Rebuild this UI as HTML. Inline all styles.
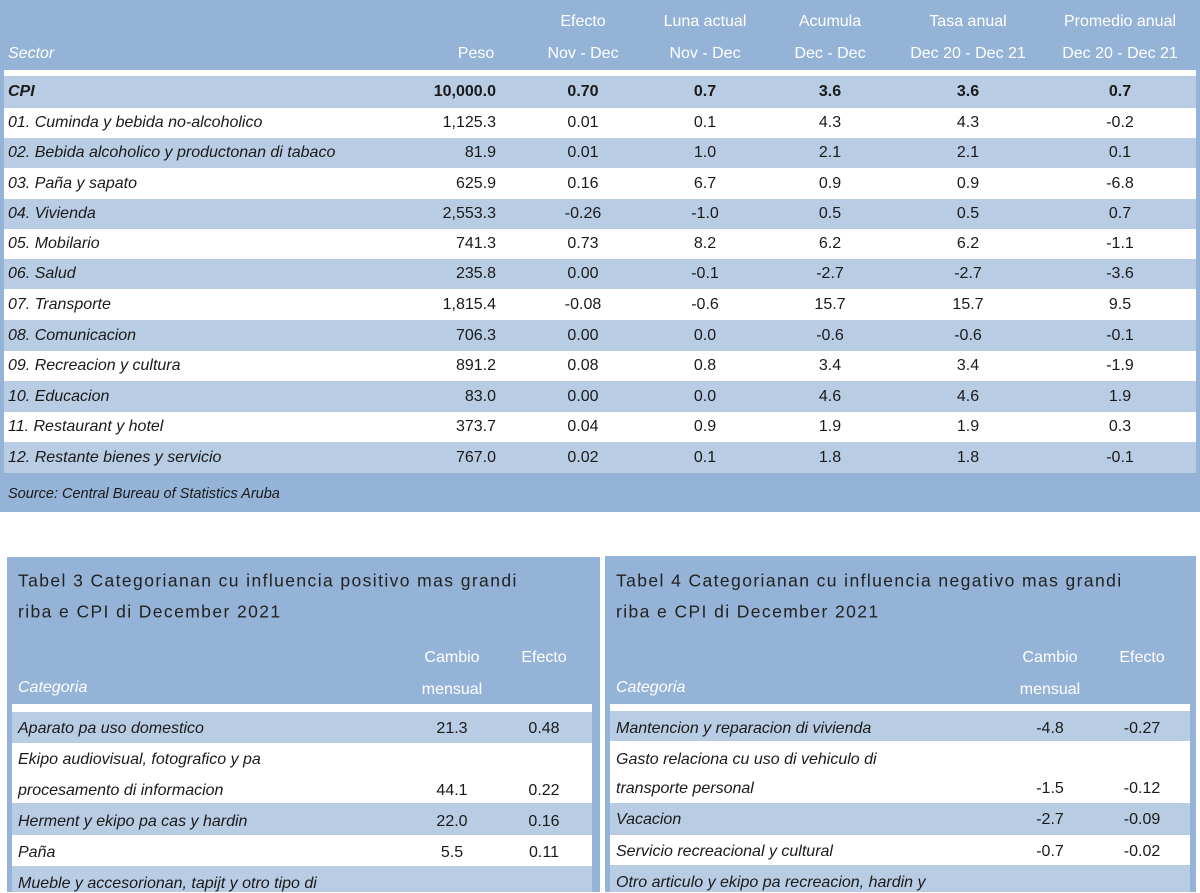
<!DOCTYPE html>
<html><head><meta charset="utf-8"><style>
body{margin:0;width:1200px;height:892px;overflow:hidden;background:#fff;font-family:"Liberation Sans",sans-serif;font-size:16px;color:#1a1a1a;position:relative}
.bg{position:absolute;background:#95b3d7}
.lt{position:absolute;background:#b8cce4}
.wh{position:absolute;background:#fff}
.h{color:#fff;position:absolute;white-space:nowrap;transform:translate(-50%,-50%)}
.c{position:absolute;white-space:nowrap;transform:translate(-50%,-50%)}
.r{position:absolute;white-space:nowrap;transform:translate(-100%,-50%)}
.l{position:absolute;white-space:nowrap;transform:translate(0,-50%);font-style:italic}
.t{position:absolute;white-space:nowrap;transform:translate(0,-50%);font-size:17.5px;letter-spacing:1.4px;color:#222}
</style></head><body>
<div class="bg" style="left:0;top:0;width:1200px;height:512px"></div>
<div class="wh" style="left:4px;top:70px;width:1192px;height:403px"></div>
<div class="bg" style="left:7px;top:557px;width:593px;height:335px"></div>
<div class="bg" style="left:605px;top:556px;width:591px;height:336px"></div>
<div class="wh" style="left:12px;top:704px;width:580px;height:188px"></div>
<div class="wh" style="left:610px;top:704px;width:580px;height:188px"></div>
<div class="lt" style="left:12px;top:712px;width:580px;height:31px"></div>
<div class="lt" style="left:12px;top:803px;width:580px;height:32px"></div>
<div class="lt" style="left:12px;top:866px;width:580px;height:26px"></div>
<div class="lt" style="left:610px;top:711px;width:580px;height:30px"></div>
<div class="lt" style="left:610px;top:803px;width:580px;height:32px"></div>
<div class="lt" style="left:610px;top:865px;width:580px;height:27px"></div>
<div id="top"></div>
<script>
var rows=[["CPI","10,000.0","0.70","0.7","3.6","3.6","0.7"],
["01. Cuminda y bebida no-alcoholico","1,125.3","0.01","0.1","4.3","4.3","-0.2"],
["02. Bebida alcoholico y productonan di tabaco","81.9","0.01","1.0","2.1","2.1","0.1"],
["03. Paña y sapato","625.9","0.16","6.7","0.9","0.9","-6.8"],
["04. Vivienda","2,553.3","-0.26","-1.0","0.5","0.5","0.7"],
["05. Mobilario","741.3","0.73","8.2","6.2","6.2","-1.1"],
["06. Salud","235.8","0.00","-0.1","-2.7","-2.7","-3.6"],
["07. Transporte","1,815.4","-0.08","-0.6","15.7","15.7","9.5"],
["08. Comunicacion","706.3","0.00","0.0","-0.6","-0.6","-0.1"],
["09. Recreacion y cultura","891.2","0.08","0.8","3.4","3.4","-1.9"],
["10. Educacion","83.0","0.00","0.0","4.6","4.6","1.9"],
["11. Restaurant y hotel","373.7","0.04","0.9","1.9","1.9","0.3"],
["12. Restante bienes y servicio","767.0","0.02","0.1","1.8","1.8","-0.1"]];
var b=[76,108,138,168,199,229,259,289,320,351,381,412,442,473];
var cx=[583,705,830,968,1120],h="";
var hd=[["Efecto","Nov - Dec"],["Luna actual","Nov - Dec"],["Acumula","Dec - Dec"],["Tasa anual","Dec 20 - Dec 21"],["Promedio anual","Dec 20 - Dec 21"]];
var bgs="";
h+='<div class="l" style="color:#fff;left:8px;top:54px">Sector</div><div class="h" style="left:476px;top:54px">Peso</div>';
hd.forEach((d,i)=>{h+='<div class="h" style="left:'+cx[i]+'px;top:22px">'+d[0]+'</div><div class="h" style="left:'+cx[i]+'px;top:54px">'+d[1]+'</div>';});
rows.forEach((r,i)=>{var y=(b[i]+b[i+1])/2;var bw=i==0?'font-weight:bold;':'';
if(i%2==0)bgs+='<div class="lt" style="left:4px;top:'+b[i]+'px;width:1192px;height:'+(b[i+1]-b[i])+'px"></div>';
h+='<div class="l" style="'+bw+'left:8px;top:'+y+'px">'+r[0]+'</div><div class="r" style="'+bw+'left:496px;top:'+y+'px">'+r[1]+'</div>';
for(var j=0;j<5;j++)h+='<div class="c" style="'+bw+'left:'+cx[j]+'px;top:'+y+'px">'+r[j+2]+'</div>';});
h+='<div class="l" style="left:8px;top:494px;font-size:14.5px">Source: Central Bureau of Statistics Aruba</div>';
function tb(x,n,kind,rs){var s='<div class="t" style="left:'+(x+6)+'px;top:581px">Tabel '+n+' Categorianan cu influencia '+kind+' mas grandi</div><div class="t" style="left:'+(x+6)+'px;top:612px">riba e CPI di December 2021</div>';
s+='<div class="l" style="color:#fff;left:'+(x+6)+'px;top:688px">Categoria</div><div class="h" style="left:'+(x+440)+'px;top:658px">Cambio</div><div class="h" style="left:'+(x+440)+'px;top:690px">mensual</div><div class="h" style="left:'+(x+532)+'px;top:658px">Efecto</div>';
rs.forEach(r=>{s+='<div class="l" style="left:'+(x+6)+'px;top:'+r[1]+'px">'+r[0]+'</div>';if(r[2])s+='<div class="c" style="left:'+(x+440)+'px;top:'+r[1]+'px">'+r[2]+'</div><div class="c" style="left:'+(x+532)+'px;top:'+r[1]+'px">'+r[3]+'</div>';});return s;}
h+=tb(12,3,"positivo",[["Aparato pa uso domestico",729,"21.3","0.48"],["Ekipo audiovisual, fotografico y pa",760],["procesamento di informacion",791,"44.1","0.22"],["Herment y ekipo pa cas y hardin",822,"22.0","0.16"],["Paña",853,"5.5","0.11"],["Mueble y accesorionan, tapijt y otro tipo di",884]]);
h+=tb(610,4,"negativo",[["Mantencion y reparacion di vivienda",729,"-4.8","-0.27"],["Gasto relaciona cu uso di vehiculo di",760],["transporte personal",789,"-1.5","-0.12"],["Vacacion",820,"-2.7","-0.09"],["Servicio recreacional y cultural",852,"-0.7","-0.02"],["Otro articulo y ekipo pa recreacion, hardin y",883]]);
document.getElementById('top').outerHTML=bgs+h;
</script>
</body></html>
